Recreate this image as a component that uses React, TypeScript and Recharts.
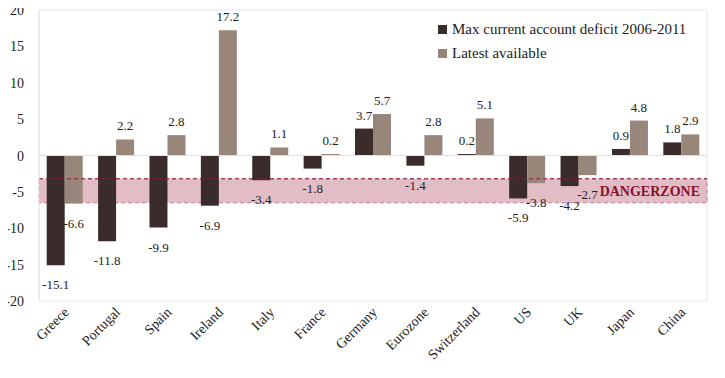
import React from "react";
import {
  BarChart,
  Bar,
  XAxis,
  YAxis,
  Legend,
  LabelList,
  ReferenceArea,
  ReferenceLine,
} from "recharts";

const countries = [
  "Greece",
  "Portugal",
  "Spain",
  "Ireland",
  "Italy",
  "France",
  "Germany",
  "Eurozone",
  "Switzerland",
  "US",
  "UK",
  "Japan",
  "China",
];
const maxDeficit = [-15.1, -11.8, -9.9, -6.9, -3.4, -1.8, 3.7, -1.4, 0.2, -5.9, -4.2, 0.9, 1.8];
const latest = [-6.6, 2.2, 2.8, 17.2, 1.1, 0.2, 5.7, 2.8, 5.1, -3.8, -2.7, 4.8, 2.9];
const yTicks = [-20, -15, -10, -5, 0, 5, 10, 15, 20];
const dangerTop = -3.2;
const dangerBottom = -6.5;

const DARK = "#3a2c2b";
const LIGHT = "#978679";
const FONT = "'Liberation Serif', 'DejaVu Serif', serif";

const data = countries.map((name, i) => ({
  name,
  max: maxDeficit[i],
  latest: latest[i],
}));

const XTick = (props: any) => {
  const { x, y, payload } = props;
  const ax = x + 5;
  const ay = y + 10;
  return (
    <text
      x={ax}
      y={ay}
      transform={`rotate(-45, ${ax}, ${ay})`}
      textAnchor="end"
      fontSize={14}
      fontFamily={FONT}
      fill="#222"
    >
      {payload.value}
    </text>
  );
};

const YTick = (props: any) => {
  const { x, y, payload } = props;
  return (
    <text x={x} y={y} dy={5} textAnchor="end" fontSize={14} fontFamily={FONT} fill="#222">
      {payload.value}
    </text>
  );
};

const ValueLabel = (props: any) => {
  const { x, y, width, height, value } = props;
  const cx = x + width / 2;
  const top = Math.min(y, y + height);
  const bottom = Math.max(y, y + height);
  const ty = value < 0 ? bottom + 24 : top - 9;
  return (
    <text x={cx} y={ty} textAnchor="middle" fontSize={13} fontFamily={FONT} fill="#222">
      {value.toFixed(1)}
    </text>
  );
};

const LegendBox = () => (
  <div style={{ fontFamily: FONT, fontSize: 15, color: "#222", lineHeight: "24px" }}>
    {[
      { label: "Max current account deficit 2006-2011", color: DARK },
      { label: "Latest available", color: LIGHT },
    ].map((item) => (
      <div key={item.label} style={{ display: "flex", alignItems: "center" }}>
        <span
          style={{
            display: "inline-block",
            width: 9,
            height: 9,
            background: item.color,
            marginRight: 5,
          }}
        />
        {item.label}
      </div>
    ))}
  </div>
);

export default function App() {
  return (
    <div style={{ margin: -8 }}>
      <BarChart
        width={725}
        height={378}
        data={data}
        margin={{ top: 10, right: 18, bottom: 0, left: 0 }}
        barCategoryGap="15%"
        barGap={0}
      >
        <ReferenceArea y1={-20} y2={20} fill="none" stroke="#e6e6e6" />
        <XAxis
          dataKey="name"
          height={77}
          interval={0}
          axisLine={false}
          tickLine={false}
          tickSize={0}
          tick={<XTick />}
        />
        <YAxis
          width={39}
          domain={[-20, 20]}
          ticks={yTicks}
          axisLine={{ stroke: "#e6e6e6" }}
          tickLine={false}
          tickSize={0}
          tickMargin={15}
          tick={<YTick />}
        />
        <ReferenceLine y={0} stroke="#e0e0e0" />
        <Legend
          layout="horizontal"
          verticalAlign="middle"
          align="center"
          wrapperStyle={{ top: 17, left: 438, width: 280 }}
          content={<LegendBox />}
        />
        <Bar dataKey="max" fill={DARK} isAnimationActive={false}>
          <LabelList dataKey="max" content={<ValueLabel />} />
        </Bar>
        <Bar dataKey="latest" fill={LIGHT} isAnimationActive={false}>
          <LabelList dataKey="latest" content={<ValueLabel />} />
        </Bar>
        <ReferenceArea
          y1={dangerBottom}
          y2={dangerTop}
          fill="#8f001e"
          fillOpacity={0.26}
          stroke="#c77d94"
          strokeDasharray="4 3"
          label={{
            value: "DANGERZONE",
            position: "insideRight",
            fill: "#8b0f2d",
            fontSize: 14,
            fontWeight: "bold",
            fontFamily: FONT,
            offset: 7,
          }}
        />
        <ReferenceLine y={dangerTop} stroke="#8b1a3a" strokeDasharray="4 3" />
      </BarChart>
    </div>
  );
}
